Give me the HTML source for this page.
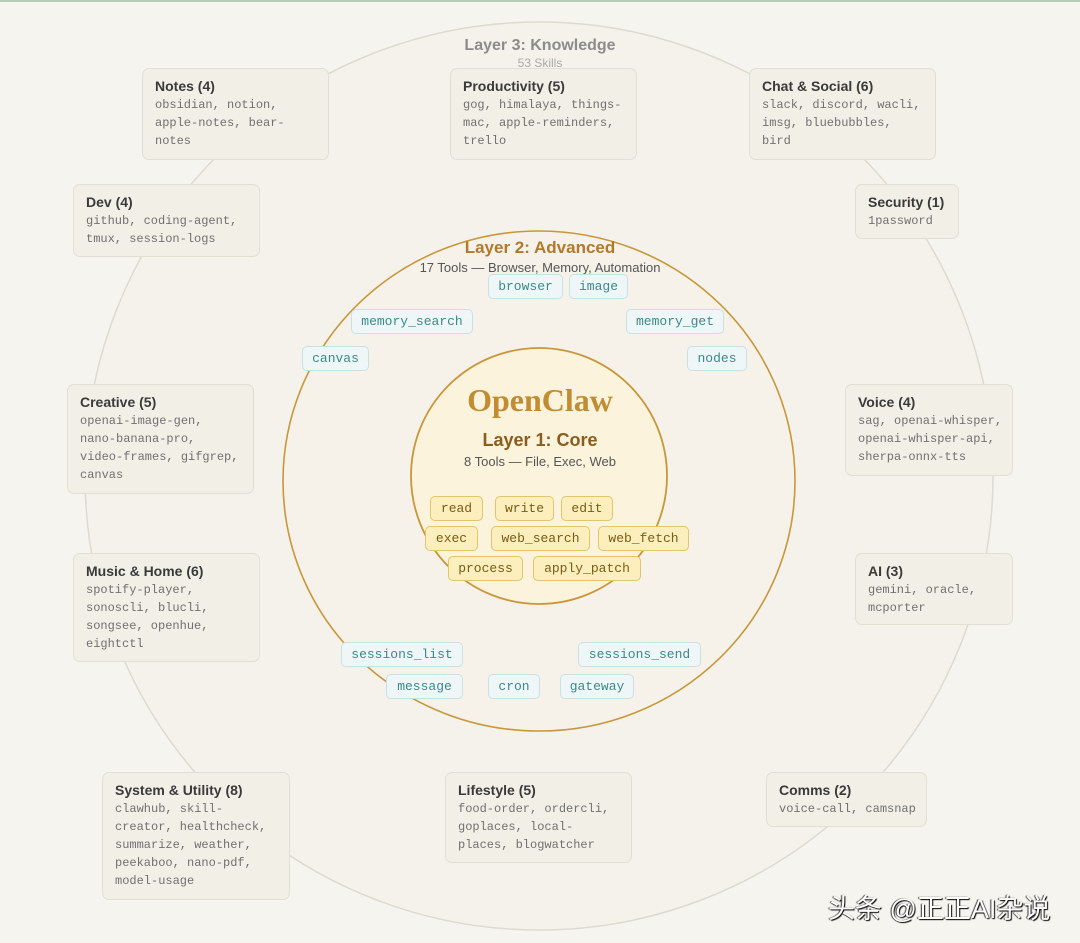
<!DOCTYPE html>
<html><head><meta charset="utf-8"><style>
*{margin:0;padding:0;box-sizing:border-box}
body{width:1080px;height:943px;background:#f6f4ef;position:relative;overflow:hidden;font-family:"Liberation Sans",sans-serif}
.b{position:absolute;background:#f2efe7;border:1px solid #e2ded3;border-radius:7px;padding:8px 12px 0 12px}
.b h3{font-size:14px;font-weight:bold;color:#3a3a3a;line-height:18px;margin-bottom:1px}
.b p{font-family:"Liberation Mono",monospace;font-size:12px;color:#707070;line-height:18px;white-space:pre}
.c{position:absolute;height:25px;border-radius:5px;font-family:"Liberation Mono",monospace;font-size:13px;text-align:center;line-height:23px}
.bl{background:#eef6f8;border:1px solid #c9e1e6;color:#3a8a88}
.ye{background:#fcefbd;border:1px solid #e0c66c;color:#7a5b14}
.t{position:absolute;left:0;width:1080px;text-align:center}
</style></head><body>
<div style="position:absolute;left:0;top:0;width:1080px;height:2px;background:#b5ccb5"></div>
<svg width="1080" height="943" style="position:absolute;left:0;top:0">
<circle cx="539" cy="476" r="454" fill="#f5f2ec" stroke="#dedad0" stroke-width="1.5"/>
<ellipse cx="539" cy="481" rx="256" ry="250" fill="#f6f2ea" stroke="#c9973a" stroke-width="1.6"/>
<circle cx="539" cy="476" r="128" fill="#fbf3dc" stroke="#c9973a" stroke-width="1.8"/>
</svg>
<div class="t" style="top:37px;font-size:16px;font-weight:bold;color:#8c8c8c">Layer 3: Knowledge</div>
<div class="t" style="top:56px;font-size:12px;color:#aaa">53 Skills</div>
<div class="t" style="top:238px;font-size:17px;font-weight:bold;color:#b07a2a">Layer 2: Advanced</div>
<div class="t" style="top:260px;font-size:13px;color:#555">17 Tools — Browser, Memory, Automation</div>
<div class="t" style="top:382px;font-size:32px;font-weight:bold;color:#c28d32;font-family:'Liberation Serif',serif">OpenClaw</div>
<div class="t" style="top:430px;font-size:18px;font-weight:bold;color:#8a5c1e">Layer 1: Core</div>
<div class="t" style="top:454px;font-size:13px;color:#555">8 Tools — File, Exec, Web</div>

<div class="b" style="left:142px;top:68px;width:187px;height:92px"><h3>Notes (4)</h3><p>obsidian, notion,
apple-notes, bear-
notes</p></div>
<div class="b" style="left:450px;top:68px;width:187px;height:92px"><h3>Productivity (5)</h3><p>gog, himalaya, things-
mac, apple-reminders,
trello</p></div>
<div class="b" style="left:749px;top:68px;width:187px;height:92px"><h3>Chat &amp; Social (6)</h3><p>slack, discord, wacli,
imsg, bluebubbles,
bird</p></div>
<div class="b" style="left:73px;top:184px;width:187px;height:73px"><h3>Dev (4)</h3><p>github, coding-agent,
tmux, session-logs</p></div>
<div class="b" style="left:855px;top:184px;width:104px;height:55px"><h3>Security (1)</h3><p>1password</p></div>
<div class="b" style="left:67px;top:384px;width:187px;height:110px"><h3>Creative (5)</h3><p>openai-image-gen,
nano-banana-pro,
video-frames, gifgrep,
canvas</p></div>
<div class="b" style="left:845px;top:384px;width:168px;height:92px"><h3>Voice (4)</h3><p>sag, openai-whisper,
openai-whisper-api,
sherpa-onnx-tts</p></div>
<div class="b" style="left:73px;top:553px;width:187px;height:109px"><h3>Music &amp; Home (6)</h3><p>spotify-player,
sonoscli, blucli,
songsee, openhue,
eightctl</p></div>
<div class="b" style="left:855px;top:553px;width:158px;height:72px"><h3>AI (3)</h3><p>gemini, oracle,
mcporter</p></div>
<div class="b" style="left:102px;top:772px;width:188px;height:128px"><h3>System &amp; Utility (8)</h3><p>clawhub, skill-
creator, healthcheck,
summarize, weather,
peekaboo, nano-pdf,
model-usage</p></div>
<div class="b" style="left:445px;top:772px;width:187px;height:91px"><h3>Lifestyle (5)</h3><p>food-order, ordercli,
goplaces, local-
places, blogwatcher</p></div>
<div class="b" style="left:766px;top:772px;width:161px;height:55px"><h3>Comms (2)</h3><p>voice-call, camsnap</p></div>

<div class="c bl" style="left:488px;top:274px;width:75px">browser</div>
<div class="c bl" style="left:569px;top:274px;width:59px">image</div>
<div class="c bl" style="left:351px;top:309px;width:122px">memory_search</div>
<div class="c bl" style="left:626px;top:309px;width:98px">memory_get</div>
<div class="c bl" style="left:302px;top:346px;width:67px">canvas</div>
<div class="c bl" style="left:687px;top:346px;width:60px">nodes</div>
<div class="c bl" style="left:341px;top:642px;width:122px">sessions_list</div>
<div class="c bl" style="left:578px;top:642px;width:123px">sessions_send</div>
<div class="c bl" style="left:386px;top:674px;width:77px">message</div>
<div class="c bl" style="left:488px;top:674px;width:52px">cron</div>
<div class="c bl" style="left:560px;top:674px;width:74px">gateway</div>

<div class="c ye" style="left:430px;top:496px;width:53px">read</div>
<div class="c ye" style="left:495px;top:496px;width:59px">write</div>
<div class="c ye" style="left:561px;top:496px;width:52px">edit</div>
<div class="c ye" style="left:425px;top:526px;width:53px">exec</div>
<div class="c ye" style="left:491px;top:526px;width:99px">web_search</div>
<div class="c ye" style="left:598px;top:526px;width:91px">web_fetch</div>
<div class="c ye" style="left:448px;top:556px;width:75px">process</div>
<div class="c ye" style="left:533px;top:556px;width:108px">apply_patch</div>

<div style="position:absolute;left:828px;top:887px;font-size:27px;color:#fff;font-family:'Liberation Sans','Noto Sans CJK SC',sans-serif;text-shadow:1px 1px 1px #000,-1px 0 1px #333;white-space:nowrap">头条 @正正AI杂说</div>
</body></html>
